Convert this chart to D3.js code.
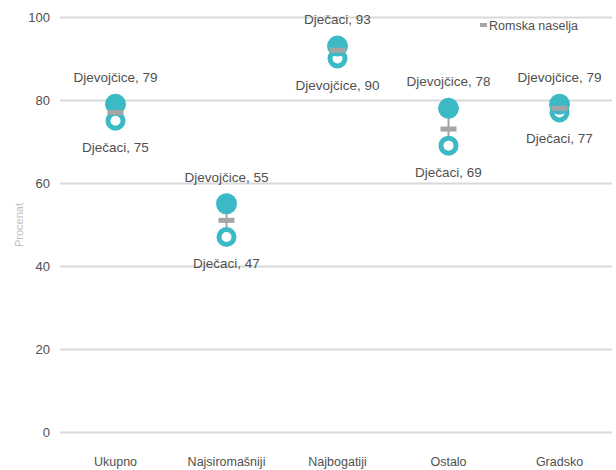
<!DOCTYPE html>
<html><head><meta charset="utf-8">
<script src="https://cdn.jsdelivr.net/npm/d3@7"></script>
<style>body{margin:0;background:#fff}text{font-family:"Liberation Sans",Arial,sans-serif}</style>
</head><body>
<svg id="c" width="616" height="470"></svg>
<script>
const categories = ["Ukupno","Najsiromašniji","Najbogatiji","Ostalo","Gradsko"];
const filledValues = [79,55,93,78,79];
const ringValues = [75,47,90,69,77];
const romaValues = [77,51,92,73,78];
const filledNames = ["Djevojčice","Djevojčice","Dječaci","Djevojčice","Djevojčice"];
const ringNames = ["Dječaci","Dječaci","Djevojčice","Dječaci","Dječaci"];
const yTicks = [0,20,40,60,80,100];
const legendLabel = "Romska naselja";
const yTitle = "Procenat";

const svg = d3.select("#c");
const teal = "#3BBAC6", grey = "#A5A5A5", txt = "#505050";
const x = d3.scaleBand().domain(categories).range([60,615]);
const y = d3.scaleLinear().domain([0,100]).range([432,17]);
const cx = c => x(c) + x.bandwidth()/2;

const yAxis = svg.append("g").attr("transform","translate(60,0)")
  .call(d3.axisLeft(y).tickValues(yTicks).tickSize(-552).tickPadding(10));
yAxis.select(".domain").remove();
yAxis.selectAll(".tick line").attr("stroke","#D9D9D9").attr("stroke-width",2);
yAxis.selectAll(".tick text").attr("fill",txt).style("font-size","13px");

const xAxis = svg.append("g").attr("transform","translate(0,432)")
  .call(d3.axisBottom(x).tickSize(0).tickPadding(25));
xAxis.select(".domain").remove();
xAxis.selectAll(".tick text").attr("fill",txt).style("font-size","12.5px");

svg.append("text").attr("transform","translate(23,225) rotate(-90)")
  .attr("text-anchor","middle").attr("fill","#BFBFBF").style("font-size","11px").text(yTitle);

const data = categories.map((c,i)=>({c, f:filledValues[i], r:ringValues[i], m:romaValues[i], fn:filledNames[i], rn:ringNames[i]}));

svg.selectAll(".conn").data(data).join("line")
  .attr("x1",d=>cx(d.c)).attr("x2",d=>cx(d.c))
  .attr("y1",d=>y(d.f)).attr("y2",d=>y(d.r))
  .attr("stroke",grey).attr("stroke-width",2);
svg.selectAll(".ring").data(data).join("circle")
  .attr("cx",d=>cx(d.c)).attr("cy",d=>y(d.r)).attr("r",7.5)
  .attr("fill","#fff").attr("stroke",teal).attr("stroke-width",5);
svg.selectAll(".fill").data(data).join("circle")
  .attr("cx",d=>cx(d.c)).attr("cy",d=>y(d.f)).attr("r",10.5)
  .attr("fill",teal);
svg.selectAll(".roma").data(data).join("rect")
  .attr("x",d=>cx(d.c)-8).attr("y",d=>y(d.m)-2.5).attr("width",16).attr("height",5)
  .attr("fill",grey);

const hi = d => Math.max(d.f,d.r), lo = d => Math.min(d.f,d.r);
svg.selectAll(".lt").data(data).join("text")
  .attr("x",d=>cx(d.c)).attr("y",d=>y(hi(d))-22).attr("text-anchor","middle")
  .attr("fill",txt).style("font-size","13.5px")
  .text(d=> d.f>=d.r ? `${d.fn}, ${d.f}` : `${d.rn}, ${d.r}`);
svg.selectAll(".lb").data(data).join("text")
  .attr("x",d=>cx(d.c)).attr("y",d=>y(lo(d))+31).attr("text-anchor","middle")
  .attr("fill",txt).style("font-size","13.5px")
  .text(d=> d.f>=d.r ? `${d.rn}, ${d.r}` : `${d.fn}, ${d.f}`);

svg.append("rect").attr("x",480).attr("y",23).attr("width",7).attr("height",4).attr("fill",grey);
svg.append("text").attr("x",489).attr("y",30).attr("fill",txt).style("font-size","12.5px").text(legendLabel);
</script>
</body></html>
